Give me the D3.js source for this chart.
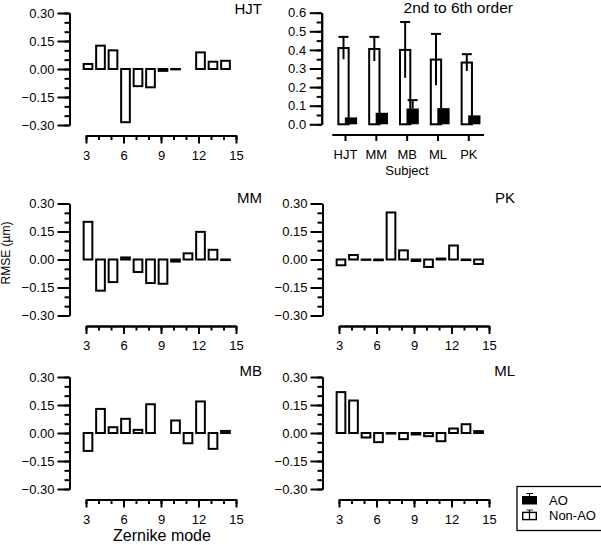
<!DOCTYPE html>
<html><head><meta charset="utf-8">
<script src="https://cdn.jsdelivr.net/npm/d3@7"></script>
<style>
body{margin:0;background:#fff}
svg{display:block;font-family:"Liberation Sans",Arial,Helvetica,sans-serif}
</style></head><body>
<svg id="c" width="601" height="545"></svg>
<script>
// ---- data ----
const modes = [3,4,5,6,7,8,9,10,11,12,13,14];
const modeTicks = [3,6,9,12,15];
const modeMinorTicks = [3,4,5,6,7,8,9,10,11,12,13,14,15];
const rmseTicks = [-0.30,-0.15,0,0.15,0.30];
const rmseMinorTicks = [-0.30,-0.25,-0.20,-0.15,-0.10,-0.05,0,0.05,0.10,0.15,0.20,0.25,0.30];
const hjt = [0.027,0.125,0.10,-0.285,-0.092,-0.098,-0.010,-0.002,null,0.089,0.039,0.044];
const mm  = [0.202,-0.167,-0.121,0.011,-0.067,-0.126,-0.130,-0.011,0.033,0.148,0.052,-0.003];
const pk  = [-0.031,0.024,-0.002,-0.004,0.252,0.049,-0.008,-0.040,0.005,0.075,-0.003,-0.024];
const mb  = [-0.096,0.129,0.031,0.076,0.017,0.154,null,0.067,-0.055,0.169,-0.085,0.011];
const ml  = [0.219,0.174,-0.024,-0.049,-0.003,-0.033,-0.008,-0.017,-0.044,0.024,0.047,0.010];

const subjects = ["HJT","MM","MB","ML","PK"];
const nonAO    = [0.410,0.405,0.400,0.348,0.332];
const nonAOErr = [0.060,0.065,0.150,0.138,0.045];
const ao       = [0.037,0.062,0.085,0.087,0.048];
const aoErr    = [0,0,0.045,0,0];
const meanTicks = [0,0.1,0.2,0.3,0.4,0.5,0.6];
const meanMinorTicks = [0,0.05,0.1,0.15,0.2,0.25,0.3,0.35,0.4,0.45,0.5,0.55,0.6];

const svg = d3.select("#c");
const FONT = '"Liberation Sans",Arial,Helvetica,sans-serif';

function styleAxis(g, fs){
  g.attr("font-family", FONT).attr("font-size", fs);
  g.selectAll("path.domain").attr("stroke","#000").attr("stroke-width",2);
  g.selectAll(".tick line").attr("stroke","#000").attr("stroke-width",2);
  g.selectAll(".tick text").attr("fill","#000");
}

function panel(name, vals, x0, yTop){
  const g = svg.append("g");
  const x = d3.scaleLinear().domain([3,15]).range([x0, x0+150]);
  const y = d3.scaleLinear().domain([-0.3,0.3]).range([yTop+112, yTop]);
  const yAxX = x0 - 16.5;
  const xAxY = yTop + 122.5;

  g.append("g").attr("transform",`translate(${yAxX},0)`)
    .call(d3.axisLeft(y).tickValues(rmseMinorTicks).tickSize(5).tickSizeOuter(0).tickFormat(""))
    .call(s=>styleAxis(s,13));
  g.append("g").attr("transform",`translate(${yAxX},0)`)
    .call(d3.axisLeft(y).tickValues(rmseTicks).tickSize(12).tickSizeOuter(0).tickPadding(3).tickFormat(d3.format(".2f")))
    .call(s=>styleAxis(s,13));

  g.append("g").attr("transform",`translate(0,${xAxY})`)
    .call(d3.axisBottom(x).tickValues(modeMinorTicks).tickSize(4.5).tickSizeOuter(0).tickFormat(""))
    .call(s=>styleAxis(s,13));
  g.append("g").attr("transform",`translate(0,${xAxY})`)
    .call(d3.axisBottom(x).tickValues(modeTicks).tickSize(8).tickSizeOuter(0).tickPadding(6.8).tickFormat(d3.format("d")))
    .call(s=>styleAxis(s,13));

  const data = modes.map((m,i)=>({m, v: vals[i]})).filter(d=>d.v!==null);
  g.selectAll("rect.bar").data(data).enter().append("rect")
    .attr("class","bar")
    .attr("x", d=>x(d.m) - 2.35)
    .attr("width", 8.7)
    .attr("y", d=>Math.min(y(d.v), y(0)))
    .attr("height", d=>Math.max(Math.abs(y(d.v)-y(0)), 0.3))
    .attr("fill","#fff").attr("stroke","#000").attr("stroke-width",2);

  g.append("text").attr("x", x0+176).attr("y", Math.max(yTop-0.8, 14))
    .attr("text-anchor","end").attr("font-size",15).attr("font-family",FONT).text(name);
}

panel("HJT", hjt, 86, 13);
panel("MM",  mm,  86, 203.5);
panel("PK",  pk,  339, 203.5);
panel("MB",  mb,  86, 377);
panel("ML",  ml,  339, 377);

// axis titles
svg.append("text").attr("transform","translate(9.5,253) rotate(-90)")
  .attr("text-anchor","middle").attr("font-size",12).attr("font-family",FONT).text("RMSE (µm)");
svg.append("text").attr("x",162).attr("y",541)
  .attr("text-anchor","middle").attr("font-size",16).attr("font-family",FONT).text("Zernike mode");

// ---- summary chart ----
(function(){
  const g = svg.append("g");
  const y = d3.scaleLinear().domain([0,0.6]).range([124.3, 12.7]);
  const x = d3.scalePoint().domain(subjects).range([345, 468.3]);
  const yAxX = 321.7, xAxY = 135;
  g.append("g").attr("transform",`translate(${yAxX},0)`)
    .call(d3.axisLeft(y).tickValues(meanMinorTicks).tickSize(5).tickSizeOuter(0).tickFormat(""))
    .call(s=>styleAxis(s,13));
  g.append("g").attr("transform",`translate(${yAxX},0)`)
    .call(d3.axisLeft(y).tickValues(meanTicks).tickSize(12).tickSizeOuter(0).tickPadding(3.5).tickFormat(d3.format(".1f")))
    .call(s=>styleAxis(s,13));
  const xa = g.append("g").attr("transform",`translate(0,${xAxY})`)
    .call(d3.axisBottom(x).tickSize(6).tickSizeOuter(0).tickPadding(8.8))
    .call(s=>styleAxis(s,13));
  xa.select("path.domain").remove();
  xa.append("line").attr("x1", x(subjects[0])-12.7).attr("x2", x(subjects[subjects.length-1])+15.7)
    .attr("stroke","#000").attr("stroke-width",2);

  const rows = subjects.map((s,i)=>({s, n:nonAO[i], ne:nonAOErr[i], a:ao[i], ae:aoErr[i]}));
  // open bars
  g.selectAll("rect.open").data(rows).enter().append("rect")
    .attr("x", d=>x(d.s)-1.5-5.15).attr("width",10.3)
    .attr("y", d=>y(d.n)).attr("height", d=>y(0)-y(d.n))
    .attr("fill","#fff").attr("stroke","#000").attr("stroke-width",2);
  // open error bars
  g.selectAll("line.oe").data(rows).enter().append("line")
    .attr("x1", d=>x(d.s)-1.5).attr("x2", d=>x(d.s)-1.5)
    .attr("y1", d=>y(d.n-d.ne)).attr("y2", d=>y(d.n+d.ne))
    .attr("stroke","#000").attr("stroke-width",2);
  g.selectAll("line.oc").data(rows).enter().append("line")
    .attr("x1", d=>x(d.s)-1.5-5).attr("x2", d=>x(d.s)-1.5+5)
    .attr("y1", d=>y(d.n+d.ne)).attr("y2", d=>y(d.n+d.ne))
    .attr("stroke","#000").attr("stroke-width",2);
  // AO error bars (only where they rise above the bar)
  const withErr = rows.filter(d=>d.ae>0);
  g.selectAll("line.ae").data(withErr).enter().append("line")
    .attr("x1", d=>x(d.s)+6).attr("x2", d=>x(d.s)+6)
    .attr("y1", d=>y(d.a)).attr("y2", d=>y(d.a+d.ae))
    .attr("stroke","#000").attr("stroke-width",2);
  g.selectAll("line.ac").data(withErr).enter().append("line")
    .attr("x1", d=>x(d.s)+6-5).attr("x2", d=>x(d.s)+6+5)
    .attr("y1", d=>y(d.a+d.ae)).attr("y2", d=>y(d.a+d.ae))
    .attr("stroke","#000").attr("stroke-width",2);
  // AO bars
  g.selectAll("rect.ao").data(rows).enter().append("rect")
    .attr("x", d=>x(d.s)+6-6.15).attr("width",12.3)
    .attr("y", d=>y(d.a)).attr("height", d=>y(0)-y(d.a))
    .attr("fill","#000");

  svg.append("text").attr("x",513).attr("y",12.5).attr("text-anchor","end")
    .attr("font-size",15.5).attr("font-family",FONT).text("2nd to 6th order");
  svg.append("text").attr("x",407).attr("y",175).attr("text-anchor","middle")
    .attr("font-size",13).attr("font-family",FONT).text("Subject");
})();

// ---- legend ----
(function(){
  const g = svg.append("g").attr("font-family",FONT).attr("font-size",13);
  g.append("rect").attr("x",517).attr("y",486.5).attr("width",90).attr("height",44)
    .attr("fill","#fff").attr("stroke","#000").attr("stroke-width",1.3);
  // AO
  g.append("line").attr("x1",529.5).attr("x2",529.5).attr("y1",493.5).attr("y2",497).attr("stroke","#000").attr("stroke-width",1);
  g.append("line").attr("x1",526.5).attr("x2",533).attr("y1",493.5).attr("y2",493.5).attr("stroke","#000").attr("stroke-width",1);
  g.append("rect").attr("x",522).attr("y",496).attr("width",15).attr("height",8.5).attr("fill","#000");
  g.append("text").attr("x",549).attr("y",505).text("AO");
  // Non-AO
  g.append("rect").attr("x",522.7).attr("y",512.4).attr("width",13.6).attr("height",7.2)
    .attr("fill","#fff").attr("stroke","#000").attr("stroke-width",1.4);
  g.append("line").attr("x1",529.5).attr("x2",529.5).attr("y1",510).attr("y2",519.6).attr("stroke","#000").attr("stroke-width",1.2);
  g.append("line").attr("x1",526.5).attr("x2",533).attr("y1",510).attr("y2",510).attr("stroke","#000").attr("stroke-width",0.8);
  g.append("text").attr("x",549).attr("y",520).text("Non-AO");
})();
</script>
</body></html>
